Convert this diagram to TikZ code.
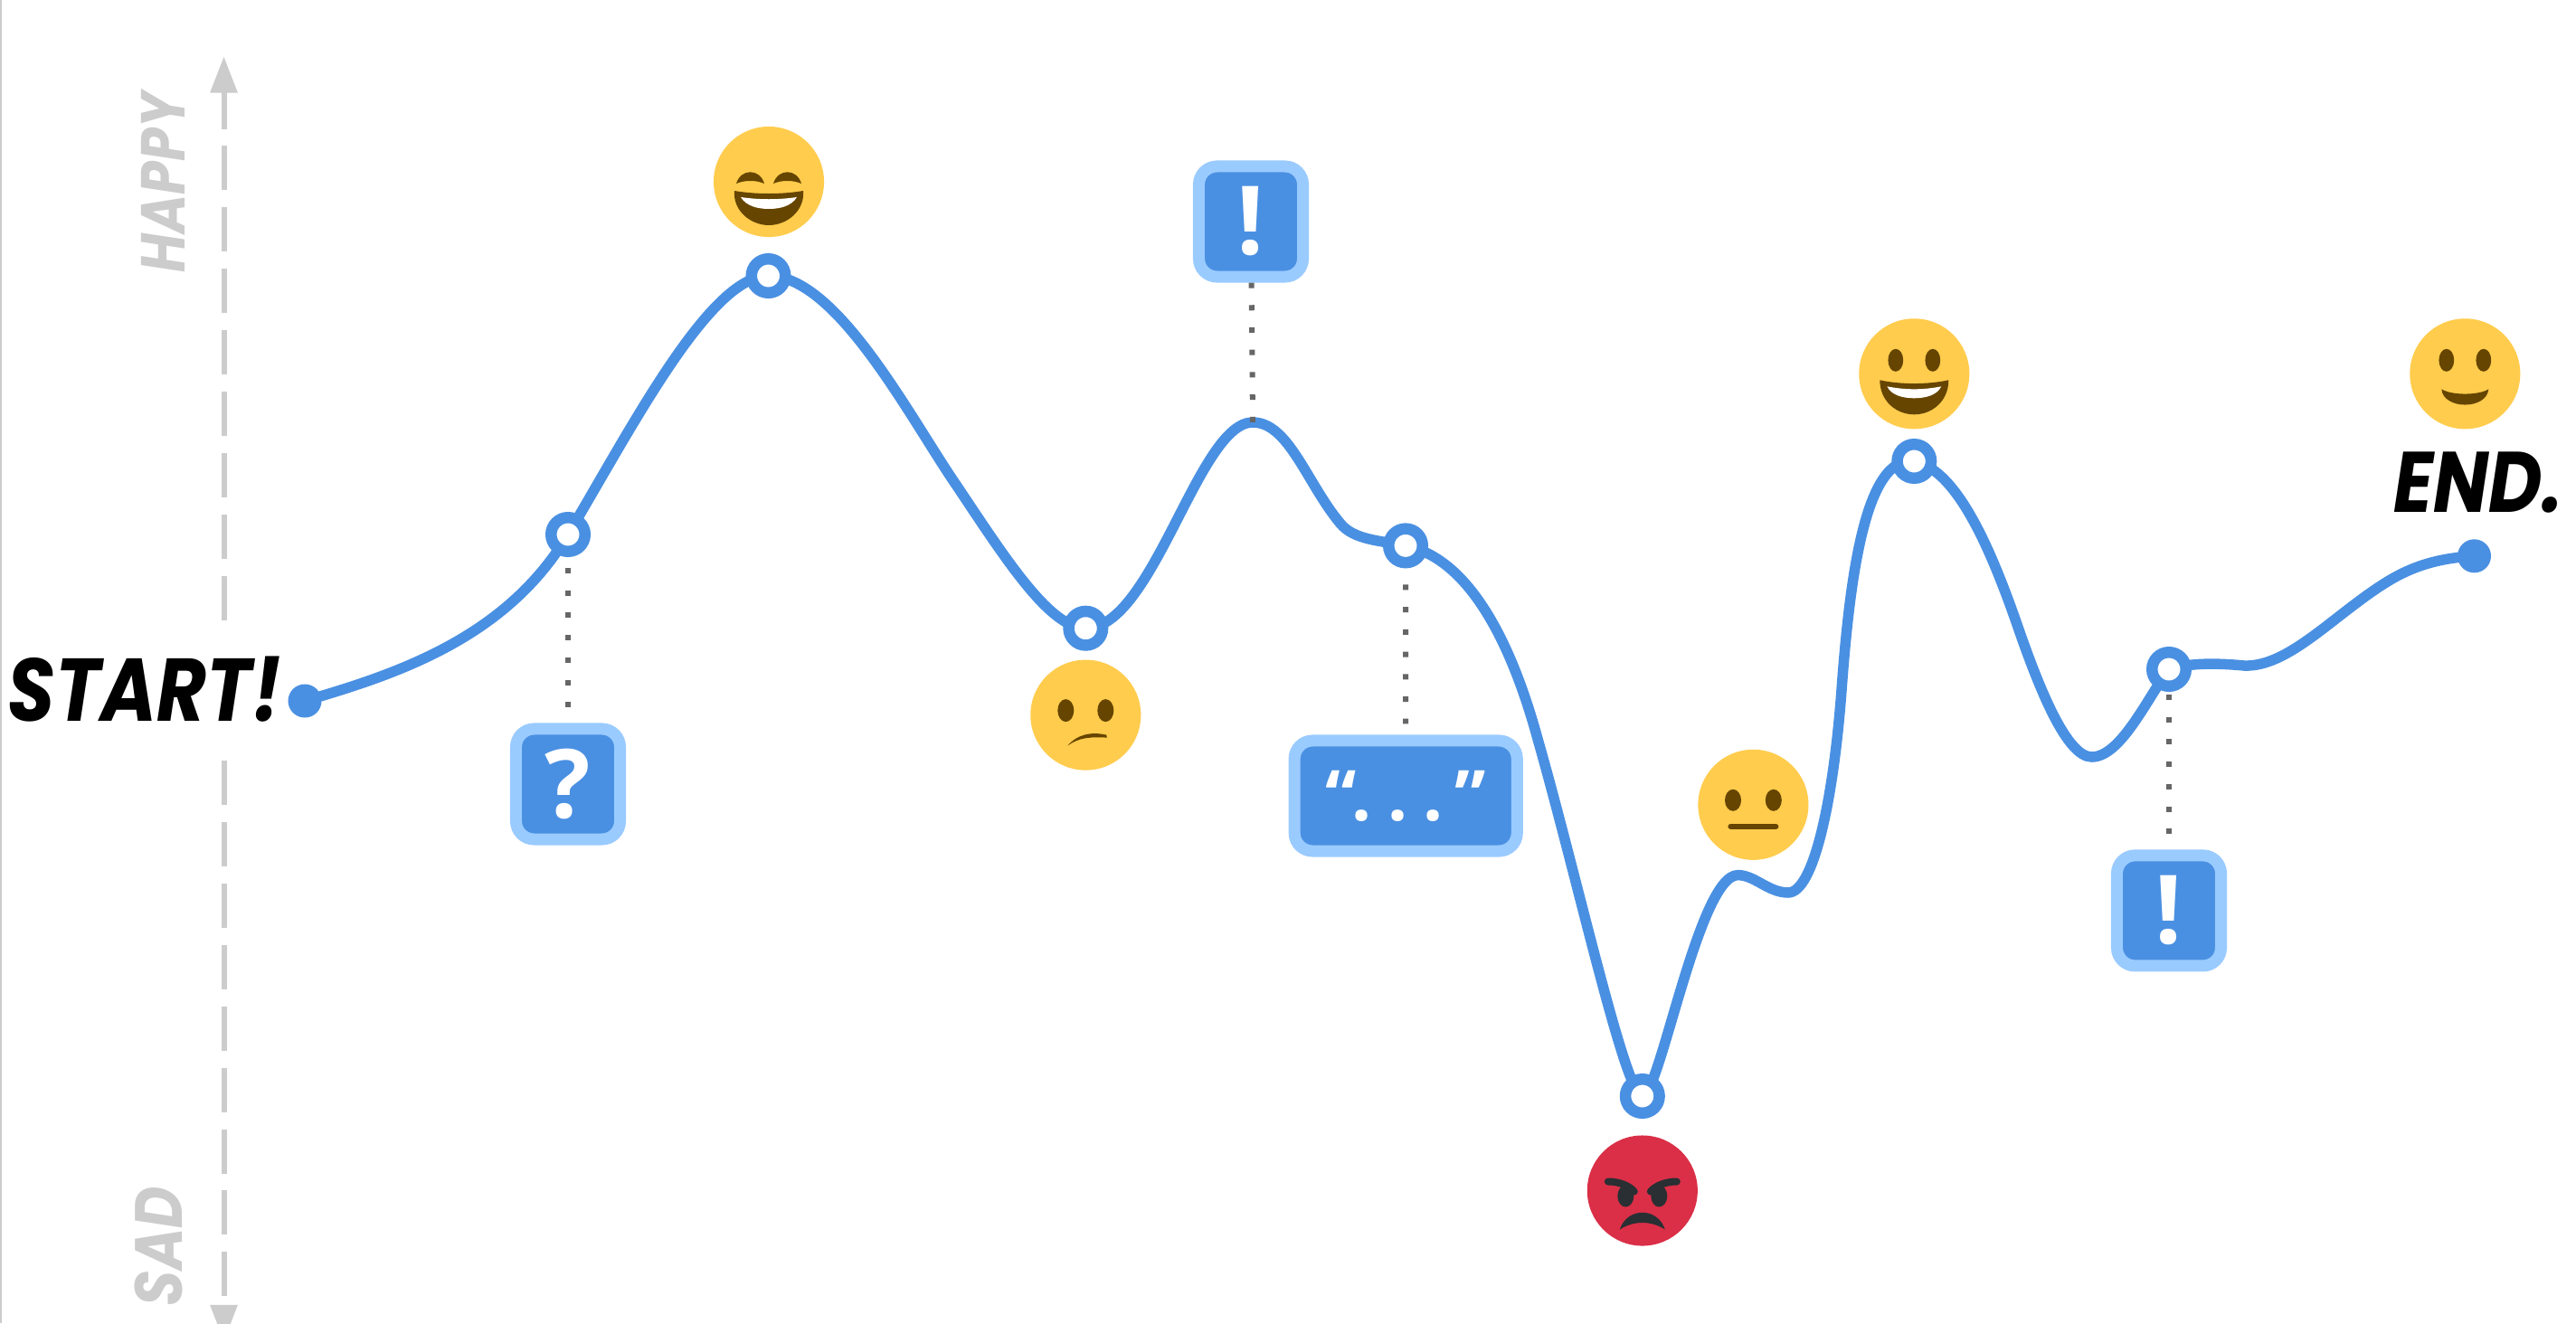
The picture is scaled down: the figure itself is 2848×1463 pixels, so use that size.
\documentclass[tikz,border=0pt]{standalone}
\usepackage{fontspec}
\usetikzlibrary{arrows.meta}
\newfontfamily\brushfont[FakeStretch = 0.857, BoldFeatures = {FakeBold = 1.5}]{Poppins}
\newfontfamily\boxfont{Open Sans}
\definecolor{curveblue}{HTML}{4A90E2}
\definecolor{edgeblue}{HTML}{9ACBFF}
\definecolor{axisgrey}{HTML}{CCCCCC}
\definecolor{dotgrey}{HTML}{666666}
\definecolor{faceyellow}{HTML}{FFCC4D}
\definecolor{facebrown}{HTML}{664500}
\definecolor{facered}{HTML}{DA2F47}
\definecolor{facedark}{HTML}{292F33}
\tikzset{
    curve/.style = {curveblue, line width = 0.115cm},
    axisline/.style = {axisgrey, line width = 0.06cm, dash pattern = on 0.49cm off 0.189cm, dash phase = 0.075cm},
    dotline/.style = {dotgrey, line width = 0.06cm, dash pattern = on 0.06cm off 0.187cm},
    openpt/.style = {circle, draw = curveblue, fill = white, line width = 0.125cm, minimum size = 0.375cm, inner sep = 0},
    endpt/.style = {circle, fill = curveblue, minimum size = 0.37cm, inner sep = 0},
    face/.style = {circle, fill = faceyellow, minimum size = 1.22cm, inner sep = 0},
    madface/.style = {face, fill = facered},
    msgbox/.style = {draw = edgeblue, fill = curveblue, line width = 0.13cm, rounded corners = 0.2cm, minimum width = 1.15cm, minimum height = 1.22cm, inner sep = 0, text = white, font = \boxfont\bfseries\fontsize{30}{30}\selectfont},
    bigtext/.style = {font = \brushfont\bfseries\itshape\fontsize{28}{28}\selectfont, inner sep = 0},
    sidetext/.style = {font = \brushfont\bfseries\itshape\fontsize{21}{21}\selectfont, text = axisgrey, inner sep = 0, rotate = 90}
}
\begin{document}
\begin{tikzpicture}[x = 0.01cm, y = -0.01cm]
    \useasboundingbox[fill = white] (0, 0) rectangle (2848, 1463);
    \coordinate (axistop) at (247.5, 62.5);
    \coordinate (axisbot) at (247.5, 1483);
    \coordinate (pstart) at (337, 775);
    \coordinate (pq) at (628, 591);
    \coordinate (plaugh) at (849.5, 305);
    \coordinate (psad) at (1200.3, 694.7);
    \coordinate (ptop) at (1385, 467);
    \coordinate (pdots) at (1554, 603.4);
    \coordinate (pmad) at (1815.8, 1212);
    \coordinate (pgrin) at (2116.3, 510);
    \coordinate (pbang) at (2398, 740);
    \coordinate (pend) at (2735.5, 614.8);

    \draw[axisline, {Triangle[width = 0.29cm, length = 0.4cm]}-{Triangle[width = 0.29cm, length = 0.4cm]}] (axistop) -- (axisbot);
    \node[bigtext, fill = white, minimum height = 1.4cm] (starttext) at (160, 762) {START!};
    \draw[axisgrey, line width = 0.02cm] (1, 0) -- (1, 1463);
    \node[bigtext, font = \brushfont\bfseries\itshape\fontsize{27}{27}\selectfont] (endtext) at (2740, 534) {END.};
    \node[sidetext, font = \brushfont\bfseries\itshape\fontsize{19.5}{19.5}\selectfont] (happytext) at (180, 202) {HAPPY};
    \node[sidetext] (sadtext) at (175, 1378) {SAD};

    \draw[curve] (pstart) .. controls (440, 745) and (560, 705) .. (pq)
        .. controls (700, 470) and (785, 305) .. (plaugh)
        .. controls (925, 305) and (1005, 460) .. (1057, 536)
        .. controls (1110, 615) and (1160, 694.7) .. (psad)
        .. controls (1275, 694.7) and (1325, 467) .. (ptop)
        .. controls (1425, 467) and (1445, 535) .. (1482, 579)
        .. controls (1497, 597) and (1525, 597.6) .. (pdots)
        .. controls (1620, 617) and (1668, 700) .. (1700, 817)
        .. controls (1745, 975) and (1797, 1212) .. (pmad)
        .. controls (1835, 1212) and (1878, 967.6) .. (1921.4, 967.6)
        .. controls (1940, 967.6) and (1955, 987) .. (1977, 987)
        .. controls (2005, 987) and (2027, 885) .. (2036, 763)
        .. controls (2045, 640) and (2062, 503) .. (pgrin)
        .. controls (2165, 520) and (2203, 612) .. (2232.6, 698)
        .. controls (2255, 762) and (2285, 837) .. (2312.6, 837)
        .. controls (2345, 837) and (2375, 770) .. (pbang)
        .. controls (2420, 733) and (2450, 733) .. (2481, 736)
        .. controls (2530, 738) and (2580, 680) .. (2638, 644)
        .. controls (2670, 624) and (2700, 617) .. (pend);

    \node[openpt] (nq) at (pq) {};
    \node[openpt] (nlaugh) at (plaugh) {};
    \node[openpt] (nsad) at (psad) {};
    \node[openpt] (ndots) at (pdots) {};
    \node[openpt] (nmad) at (pmad) {};
    \node[openpt] (ngrin) at (pgrin) {};
    \node[openpt] (nbang) at (pbang) {};
    \node[endpt] (nstart) at (pstart) {};
    \node[endpt] (nend) at (pend) {};

    \node[msgbox] (qbox) at (628, 867) {?};
    \node[msgbox] (topbox) at (1383, 245) {!};
    \node[msgbox, minimum width = 2.46cm, font = \boxfont\bfseries\fontsize{22}{22}\selectfont] (dotsbox) at (1554.2, 880) {“\hspace{-0.07em}.\hspace{0.23em}.\hspace{0.23em}.\hspace{0.165em}”};
    \node[msgbox] (bangbox) at (2398, 1006.9) {!};

    \draw[dotline, shorten <= 0.12cm, shorten >= 0.17cm] (nq) -- (qbox);
    \draw[dotline] (topbox) -- (ptop);
    \draw[dotline, shorten <= 0.18cm, shorten >= 0.12cm] (ndots) -- (dotsbox);
    \draw[dotline, shorten <= 0.03cm, shorten >= 0.17cm] (nbang) -- (bangbox);

    \node[face] (elaugh) at (850, 201) {};
    \node[face] (esad) at (1200.3, 790.6) {};
    \node[face] (eflat) at (1938.4, 889.8) {};
    \node[madface] (emad) at (1815.8, 1316.5) {};
    \node[face] (egrin) at (2116.3, 413.3) {};
    \node[face] (esmile) at (2725.3, 413.3) {};

    \begin{scope}[shift = {(elaugh)}]
        \foreach \s in {-1, 1}
            \fill[facebrown] (\s*5, 2) .. controls (\s*10, -15) and (\s*31, -15) .. (\s*36, 2) .. controls (\s*27, -2) and (\s*14, -2) .. cycle;
        \fill[facebrown] (-38, 10) .. controls (-15, 14) and (15, 14) .. (38, 10) .. controls (40, 32) and (20, 48) .. (0, 48) .. controls (-20, 48) and (-40, 32) .. cycle;
        \fill[white] (-31, 17) .. controls (-10, 20) and (10, 20) .. (31, 17) .. controls (25, 27) and (12, 30) .. (0, 30) .. controls (-12, 30) and (-25, 27) .. cycle;
    \end{scope}
    \begin{scope}[shift = {(esad)}]
        \foreach \s in {-1, 1}
            \fill[facebrown] (\s*22, -5) ellipse [x radius = 9, y radius = 12.5];
        \fill[facebrown] (-20, 34) .. controls (-10, 22) and (5, 18) .. (23, 22) -- (23.5, 25) .. controls (5, 24) and (-8, 25) .. cycle;
    \end{scope}
    \begin{scope}[shift = {(eflat)}]
        \foreach \s in {-1, 1}
            \fill[facebrown] (\s*22.4, -5) ellipse [x radius = 9, y radius = 12];
        \draw[facebrown, line width = 0.06cm, line cap = round] (-25, 24) -- (25, 24);
    \end{scope}
    \begin{scope}[shift = {(emad)}]
        \foreach \s in {-1, 1} {
            \fill[facedark] (\s*18.5, 6) ellipse [x radius = 9, y radius = 12];
            \draw[facedark, line width = 0.08cm, line cap = round] (\s*38, -10) .. controls (\s*25, -10) and (\s*14, -5) .. (\s*9, 1);
        }
        \fill[facedark] (-25, 43) .. controls (-17, 18) and (17, 18) .. (25, 43) .. controls (10, 33) and (-10, 33) .. cycle;
    \end{scope}
    \begin{scope}[shift = {(egrin)}]
        \foreach \s in {-1, 1}
            \fill[facebrown] (\s*20.5, -15) ellipse [x radius = 8.4, y radius = 12.5];
        \fill[facebrown] (-38, 7) .. controls (-15, 12) and (15, 12) .. (38, 7) .. controls (38, 30) and (20, 45) .. (0, 45) .. controls (-20, 45) and (-38, 30) .. cycle;
        \fill[white] (-30, 14) .. controls (-10, 18) and (10, 18) .. (30, 14) .. controls (25, 24) and (12, 27) .. (0, 27) .. controls (-12, 27) and (-25, 24) .. cycle;
    \end{scope}
    \begin{scope}[shift = {(esmile)}]
        \foreach \s in {-1, 1}
            \fill[facebrown] (\s*20.5, -15) ellipse [x radius = 8.4, y radius = 12.5];
        \fill[facebrown] (-26, 17) .. controls (-15, 24) and (15, 24) .. (26, 17) .. controls (24, 40) and (-24, 40) .. cycle;
    \end{scope}
\end{tikzpicture}
\end{document}
